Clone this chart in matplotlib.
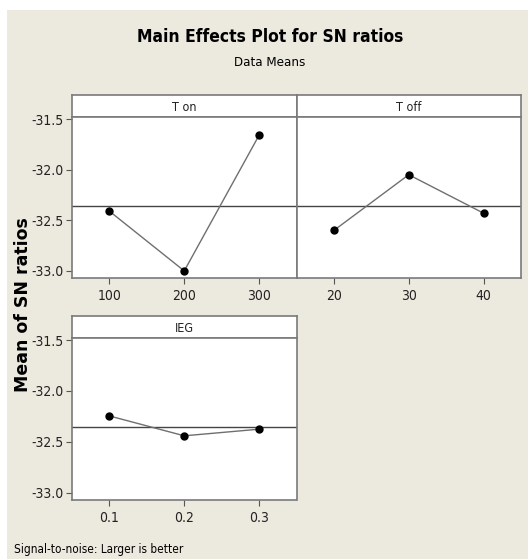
import matplotlib

matplotlib.use("Agg")
import matplotlib.pyplot as plt
from matplotlib.patches import Rectangle
from matplotlib import font_manager

# data
factors = ["T on", "T off", "IEG"]
levels_ton = ["100", "200", "300"]
levels_toff = ["20", "30", "40"]
levels_ieg = ["0.1", "0.2", "0.3"]
sn_ton = [-32.41, -33.00, -31.66]
sn_toff = [-32.60, -32.05, -32.43]
sn_ieg = [-32.245, -32.44, -32.375]
grand_mean = -32.356
yticks = [-31.5, -32.0, -32.5, -33.0]

W, H = 528, 559
BG = "#ECE9DF"
EDGE = "#7a7a7a"

# condensed face if the system has one, else Liberation Sans (narrower than DejaVu)
condensed = [f for f in font_manager.fontManager.ttflist
             if f.name == "DejaVu Sans" and f.stretch == "condensed"]
if condensed:
    TXT = dict(family="DejaVu Sans", stretch="condensed")
else:
    TXT = dict(family="Liberation Sans")

fig = plt.figure(figsize=(W / 100, H / 100), dpi=100)
fig.patch.set_facecolor("white")
fig.patches.append(
    Rectangle((7 / W, 0), 1 - 7 / W, 1 - 10 / H, transform=fig.transFigure,
              facecolor=BG, edgecolor="none", zorder=-10)
)


def px_box(x0, x1, y0, y1):
    return [x0 / W, 1 - y1 / H, (x1 - x0) / W, (y1 - y0) / H]


def panel(x0, x1, top, hdr, bottom, name, labels, values, show_y):
    head = fig.add_axes(px_box(x0, x1, top, hdr))
    head.set_xticks([])
    head.set_yticks([])
    head.set_facecolor("white")
    for s in head.spines.values():
        s.set_color(EDGE)
        s.set_linewidth(1.2)
    head.text(0.5, 0.45, name, ha="center", va="center", fontsize=9,
              color="#222222", transform=head.transAxes, **TXT)

    ax = fig.add_axes(px_box(x0, x1, hdr, bottom))
    ax.set_facecolor("white")
    pos = range(1, len(values) + 1)
    ax.axhline(grand_mean, color="#444444", linewidth=1.0, zorder=1)
    ax.plot(pos, values, color="#6f6f6f", linewidth=1.0, zorder=2)
    ax.plot(pos, values, linestyle="none", marker="o", markersize=5,
            color="black", zorder=3)
    ax.set_xlim(0.5, 3.5)
    ax.set_ylim(-33.07, -31.48)
    ax.set_xticks(list(pos))
    ax.set_xticklabels(labels, fontsize=10, **TXT)
    ax.set_yticks(yticks)
    if show_y:
        ax.set_yticklabels([f"{v:.1f}" for v in yticks], fontsize=10, **TXT)
    else:
        ax.tick_params(axis="y", left=False, labelleft=False)
    ax.tick_params(axis="x", pad=4)
    ax.tick_params(axis="y", pad=2)
    ax.tick_params(axis="both", direction="out", length=4, width=0.8,
                   color="#555555", labelcolor="#222222")
    for s in ax.spines.values():
        s.set_color(EDGE)
        s.set_linewidth(1.2)
    return ax


panel(72, 296.5, 95, 117, 278, factors[0], levels_ton, sn_ton, True)
panel(296.5, 521, 95, 117, 278, factors[1], levels_toff, sn_toff, False)
panel(72, 296.5, 316, 338, 500, factors[2], levels_ieg, sn_ieg, True)

fig.text(270 / W, 1 - 37 / H, "Main Effects Plot for SN ratios", ha="center",
         va="center", fontsize=12.5, fontweight="bold", **TXT)
fig.text(270 / W, 1 - 63 / H, "Data Means", ha="center", va="center",
         fontsize=9.5, **TXT)
fig.text(23 / W, 1 - 305 / H, "Mean of SN ratios", rotation=90, ha="center",
         va="center", fontsize=12.5, fontweight="bold", family="DejaVu Sans")
fig.text(14 / W, 1 - 549 / H, "Signal-to-noise: Larger is better", ha="left",
         va="center", fontsize=8.5, **TXT)

fig.savefig("out.png", dpi=100)
plt.close(fig)
